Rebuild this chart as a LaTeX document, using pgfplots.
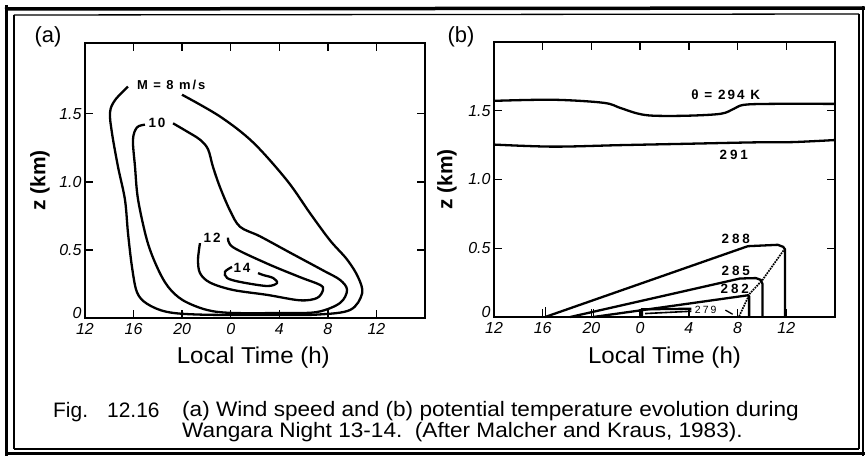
\documentclass[border=0pt]{standalone}
\usepackage{fontspec}
\setmainfont{Liberation Sans}[BoldFont=Liberation Sans Bold, ItalicFont=Liberation Sans Italic]
\newfontfamily\tickfont{Liberation Sans Italic}
\newfontfamily\labfont{Liberation Sans Bold}[LetterSpace=15]
\newfontfamily\digfont{Liberation Sans Bold}[LetterSpace=22]
\usepackage{graphicx}
\usepackage{pgfplots}
\pgfplotsset{compat=1.18}
\pgfplotsset{
  wang/.style={
    scale only axis, width=340bp, height=275bp,
    xmin=12, xmax=40, ymin=0,
    xtick={12,16,20,24,28,32,36}, xticklabels={12,16,20,0,4,8,12},
    ytick={0,0.5,1,1.5}, yticklabels={\raisebox{10bp}{0},0.5,1.0,1.5},
    tick align=inside, major tick length=8bp,
    axis line style={line width=1.5bp},
    tick style={line width=1.4bp, black},
    /pgf/number format/assume math mode=true,
    tick label style={font=\tickfont\fontsize{16}{16}\selectfont},
    xticklabel style={yshift=-2bp},
    xlabel style={font=\fontsize{23}{23}\selectfont, anchor=base},
    ylabel style={font=\bfseries\fontsize{21}{21}\selectfont, anchor=center},
    clip=false,
  },
  cont/.style={line width=2.3bp, black, smooth, tension=0.55, mark=none},
  seg/.style={line width=2.3bp, black, sharp plot, mark=none},
}
\begin{document}
\begin{tikzpicture}
\useasboundingbox (0,0) rectangle (865bp,-456bp);
% frame
\draw[line width=3.5bp] (5bp,-9bp) -- (865bp,-8bp);
\draw[line width=1.3bp] (14bp,-15bp) -- (859bp,-14bp);
\draw[line width=3.5bp] (6.5bp,-5bp) -- (6.5bp,-456bp);
\draw[line width=1.3bp] (14bp,-15bp) -- (14bp,-449bp);
\draw[line width=1.3bp] (859bp,-14bp) -- (859bp,-449bp);
\draw[line width=2.5bp] (863bp,-6bp) -- (863bp,-456bp);
\draw[line width=1.3bp] (14bp,-449bp) -- (859bp,-449bp);
\draw[line width=2.5bp] (5bp,-453.5bp) -- (865bp,-453.5bp);

% ---------------- panel (a)
\begin{axis}[wang, at={(85bp,-318bp)}, anchor=south west, ymax=2.02,
  xlabel={\scalebox{1.05}[1]{Local Time (h)}},
  xlabel style={at={(axis description cs:0.495,-0.1655)}},
  ylabel={z (km)},
  ylabel style={at={(axis description cs:-0.1324,0.5)}}]
\addplot[cont] coordinates {(15.54,1.70) (14.47,1.60) (14.06,1.51) (14.22,1.36) (14.72,1.11) (15.29,0.87) (15.54,0.625) (15.87,0.375) (16.28,0.19) (17.1,0.105) (18.75,0.045) (21.47,0.025) (27.0,0.022) (31.1,0.025) (33.83,0.059) (34.82,0.18) (34.49,0.30) (33.58,0.43) (32.18,0.57) (30.53,0.77) (28.64,1.01) (25.84,1.29) (23.12,1.48) (19.99,1.64)};
\addplot[cont] coordinates {(16.94,1.42) (16.28,1.40) (15.95,1.31) (16.12,1.11) (16.37,0.87) (17.11,0.57) (17.93,0.375) (18.84,0.23) (20.07,0.13) (22.05,0.059) (24.19,0.037) (28.31,0.037) (31.11,0.044) (33.0,0.11) (33.58,0.206) (33.0,0.28) (31.6,0.35) (28.89,0.48) (26.41,0.60) (24.77,0.67) (23.94,0.79) (23.12,0.96) (22.54,1.11) (22.13,1.24) (21.47,1.31) (20.40,1.37) (19.25,1.43)};
\addplot[cont] coordinates {(21.47,0.55) (21.31,0.43) (21.47,0.33) (22.30,0.26) (24.19,0.206) (26.99,0.17) (29.71,0.13) (31.11,0.147) (31.6,0.206) (31.36,0.243) (29.71,0.30) (26.99,0.40) (24.19,0.52) (23.78,0.59)};
\addplot[cont] coordinates {(24.11,0.375) (23.53,0.34) (23.70,0.294) (24.77,0.265) (26.99,0.235) (27.81,0.257) (27.49,0.294) (26.66,0.316) (26.25,0.33)};
\node[font=\labfont\fontsize{13}{13}\selectfont] at (axis cs:19.1,1.715) {M = 8 m/s};
\node[font=\digfont\fontsize{13.5}{13.5}\selectfont] at (axis cs:17.93,1.43) {1\kern2bp 0};
\node[font=\digfont\fontsize{13.5}{13.5}\selectfont] at (axis cs:22.46,0.59) {1\kern2bp 2};
\node[font=\digfont\fontsize{13.5}{13.5}\selectfont] at (axis cs:24.93,0.37) {1\kern2bp 4};
\end{axis}

% ---------------- panel (b)
\begin{axis}[wang, at={(494bp,-317bp)}, anchor=south west, width=341bp, ymax=2.0,
  xlabel={\scalebox{1.05}[1]{Local Time (h)}},
  xlabel style={at={(axis description cs:0.5,-0.1691)}},
  ylabel={z (km)},
  ylabel style={at={(axis description cs:-0.1378,0.5)}}]
\addplot[cont] coordinates {(12,1.572) (16.86,1.58) (20.98,1.558) (22.38,1.52) (23.78,1.48) (25.1,1.464) (27.9,1.464) (30.62,1.478) (31.69,1.514) (32.51,1.543) (34.73,1.55) (40,1.55)};
\addplot[cont] coordinates {(12,1.254) (16.86,1.239) (22.38,1.25) (27.9,1.26) (33.33,1.27) (36.5,1.272) (40,1.287)};
\addplot[seg] coordinates {(16.2,0) (32.84,0.515) (35.3,0.525) (35.75,0.51) (35.9,0.49) (35.9,0)};
\addplot[seg] coordinates {(18.26,0) (32.2,0.28) (33.5,0.283) (33.9,0.27) (34.05,0.24) (34.05,0)};
\addplot[seg] coordinates {(20.15,0) (32.85,0.158) (32.95,0.15) (32.95,0)};
\addplot[seg] coordinates {(24.16,0) (24.16,0.056) (28.2,0.06)};
\addplot[seg, line width=1.6bp] coordinates {(24.4,0.025) (28.2,0.042)};
\addplot[seg, line width=1.3bp] coordinates {(31.0,0.05) (31.6,0.02)};
\addplot[seg, line width=1.3bp] coordinates {(16.2,0) (16.2,0.07)};
\addplot[seg, line width=1.3bp] coordinates {(20.15,0) (20.15,0.06)};
\addplot[black, line width=1.7bp, densely dotted, mark=none] coordinates {(35.9,0.50) (34.05,0.27) (33.0,0.17) (32.1,0.0)};
\node[font=\labfont\fontsize{13.5}{13.5}\selectfont] at (axis cs:31.03,1.62) {θ = 294 K};
\node[font=\digfont\fontsize{13.5}{13.5}\selectfont] at (axis cs:31.69,1.18) {291};
\node[font=\digfont\fontsize{13.5}{13.5}\selectfont] at (axis cs:31.85,0.565) {288};
\node[font=\digfont\fontsize{13.5}{13.5}\selectfont] at (axis cs:31.85,0.335) {285};
\node[font=\digfont\fontsize{13.5}{13.5}\selectfont] at (axis cs:31.77,0.203) {282};
\node[font=\fontsize{10.5}{10.5}\selectfont\addfontfeatures{LetterSpace=20}] at (axis cs:29.38,0.05) {279};
\end{axis}

% panel labels
\node[font=\fontsize{22}{22}\selectfont] at (48bp,-37bp) {(a)};
\node[font=\fontsize{22}{22}\selectfont] at (461bp,-37bp) {(b)};

% caption
\node[anchor=base west, inner sep=0pt, font=\fontsize{21}{21}\selectfont] at (53bp,-417bp) {Fig.};
\node[anchor=base west, inner sep=0pt, font=\fontsize{21}{21}\selectfont] at (107bp,-417bp) {12.16};
\node[anchor=base west, inner sep=0pt, font=\fontsize{21}{21}\selectfont] at (182bp,-416bp) {\scalebox{1.08}[1]{(a) Wind speed and (b) potential temperature evolution during}};
\node[anchor=base west, inner sep=0pt, font=\fontsize{21}{21}\selectfont] at (182bp,-437bp) {\scalebox{1.08}[1]{Wangara Night 13-14.\ \ (After Malcher and Kraus, 1983).}};
\end{tikzpicture}
\end{document}
